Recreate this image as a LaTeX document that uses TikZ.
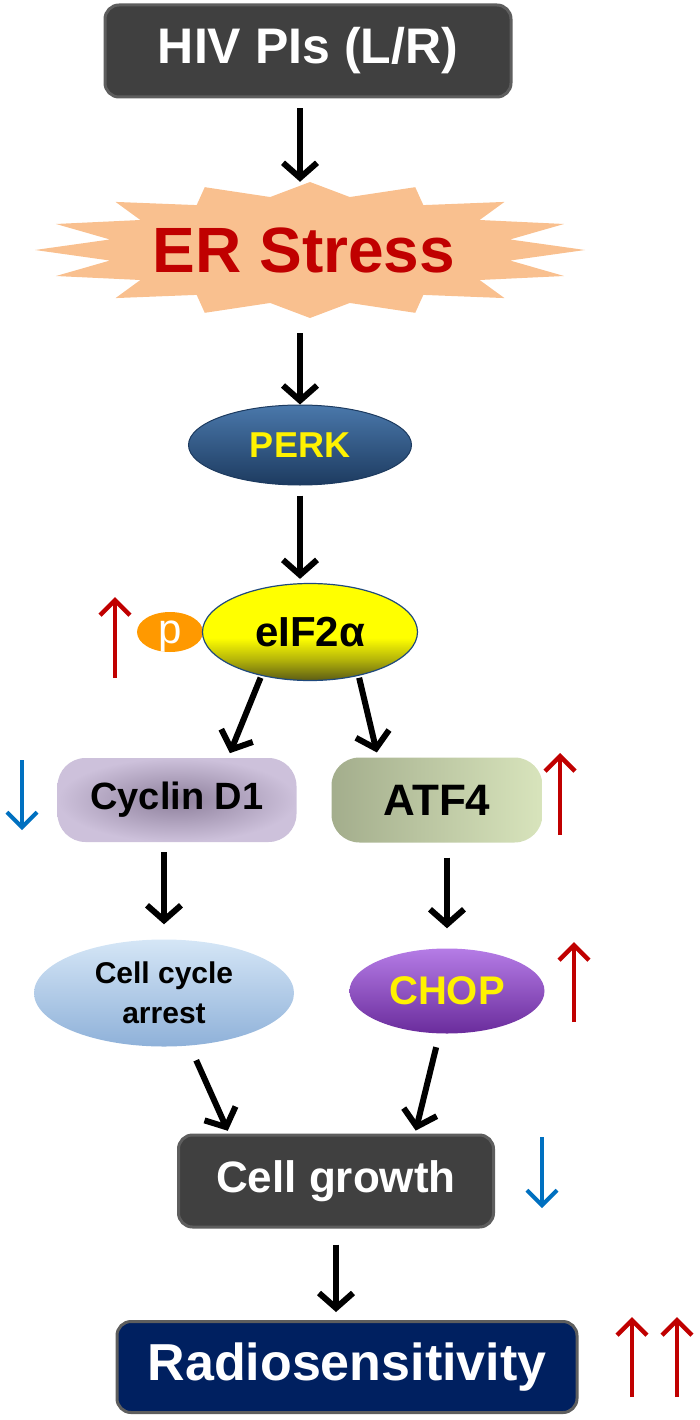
\documentclass[tikz,border=0pt]{standalone}
\usepackage{fontspec}
\setmainfont{Liberation Sans}
\usetikzlibrary{arrows.meta,calc,shapes.geometric}
\definecolor{BoxClr}{rgb}{0.25,0.25,0.25}
\definecolor{BorderClr}{rgb}{0.37,0.37,0.37}
\definecolor{StarClr}{rgb}{0.976,0.753,0.561}
\definecolor{StressClr}{rgb}{0.753,0,0}
\definecolor{UpClr}{rgb}{0.753,0,0}
\definecolor{DownClr}{rgb}{0,0.439,0.753}
\definecolor{RadioClr}{rgb}{0,0.125,0.376}
\definecolor{PerkTopClr}{rgb}{0.29,0.47,0.67}
\definecolor{PerkBotClr}{rgb}{0.114,0.231,0.376}
\definecolor{EifBotClr}{rgb}{0.36,0.36,0.08}
\definecolor{EifLineClr}{rgb}{0.122,0.286,0.49}
\definecolor{PhosClr}{rgb}{1,0.6,0}
\definecolor{CycInClr}{rgb}{0.557,0.502,0.612}
\definecolor{CycOutClr}{rgb}{0.804,0.757,0.859}
\definecolor{AtfLeftClr}{rgb}{0.64,0.68,0.55}
\definecolor{AtfRightClr}{rgb}{0.847,0.894,0.737}
\definecolor{ArrestTopClr}{rgb}{0.835,0.902,0.965}
\definecolor{ArrestBotClr}{rgb}{0.56,0.694,0.851}
\definecolor{ChopTopClr}{rgb}{0.71,0.486,0.902}
\definecolor{ChopBotClr}{rgb}{0.416,0.173,0.612}
\pgfdeclareverticalshading{eifshade}{100bp}{color(0bp)=(EifBotClr); color(25bp)=(EifBotClr); color(36bp)=(yellow!55!EifBotClr); color(47bp)=(yellow); color(100bp)=(yellow)}

\begin{document}
\begin{tikzpicture}[x=1pt,y=-1pt,
  flow/.style={line width=6pt,-{Straight Barb[length=15pt,width=34pt]},shorten <=10pt},
  upmark/.style={line width=4.5pt,UpClr,-{Straight Barb[length=15pt,width=30pt]}},
  downmark/.style={line width=4pt,DownClr,-{Straight Barb[length=15pt,width=30pt]}},
  darkbox/.style={rectangle,rounded corners=14pt,fill=BoxClr,draw=BorderClr,line width=3pt,text=white},
  blob/.style={ellipse,inner sep=0pt},
  pill/.style={rectangle,rounded corners=28pt,inner sep=0pt}]
\useasboundingbox (0,0) rectangle (700,1420);

\node[darkbox,minimum width=406,minimum height=92,font=\fontsize{50}{54}\selectfont\bfseries] (hiv) at (308,51) {HIV PIs (L/R)};

\fill[StarClr,shift={(310,250)}] plot[samples at={0,...,31},variable=\k]
  ({(mod(\k,2)==0 ? 275 : 204)*cos(\k*11.25)},{(mod(\k,2)==0 ? 68 : 54)*sin(\k*11.25)}) -- cycle;
\node[minimum width=550,minimum height=136,text=StressClr,font=\fontsize{64}{68}\selectfont\bfseries] (ers) at (304,250) {ER Stress};

\node[blob,minimum width=223,minimum height=80,top color=PerkTopClr,bottom color=PerkBotClr,draw=PerkBotClr,line width=1pt,text=yellow,font=\fontsize{36}{40}\selectfont\bfseries] (perk) at (300,445) {PERK};

\node[blob,minimum width=66,minimum height=40,fill=PhosClr,text=white,text height=22pt,text depth=0pt,font=\fontsize{42}{44}\selectfont] (phos) at (170,632) {p};
\node[blob,minimum width=215,minimum height=97,shading=eifshade,draw=EifLineClr,line width=1.2pt,font=\fontsize{42}{46}\selectfont\bfseries] (eif) at (310,632) {eIF2α};

\node[pill,minimum width=239,minimum height=84,shading=radial,inner color=CycInClr,outer color=CycOutClr,font=\fontsize{38}{42}\selectfont\bfseries] (cyc) at (177,800) {Cyclin D1};
\node[pill,minimum width=211,minimum height=85,left color=AtfLeftClr,right color=AtfRightClr,font=\fontsize{44}{48}\selectfont\bfseries] (atf) at (437,800) {ATF4};

\node[blob,minimum width=260,minimum height=107,top color=ArrestTopClr,bottom color=ArrestBotClr,align=center,font=\fontsize{30}{40}\selectfont\bfseries] (arrest) at (164,993) {Cell cycle\\arrest};
\node[blob,minimum width=195,minimum height=85,top color=ChopTopClr,bottom color=ChopBotClr,text=yellow,font=\fontsize{40}{44}\selectfont\bfseries] (chop) at (447,991) {CHOP};

\node[darkbox,minimum width=315,minimum height=92,font=\fontsize{44}{48}\selectfont\bfseries] (growth) at (336,1181) {Cell growth};
\node[darkbox,fill=RadioClr,minimum width=460,minimum height=91,font=\fontsize{52}{56}\selectfont\bfseries] (radio) at (347,1367) {Radiosensitivity};

\draw[flow] (hiv.south -| perk) -- (ers.north -| perk);
\draw[flow,shorten <=15pt] (ers.south -| perk) -- (perk.north);
\draw[flow,shorten >=4pt] (perk.south) -- (perk.south |- eif.north);
\draw[flow,shorten <=2pt,shorten >=5pt] (eif.-138) -- ([xshift=51pt]cyc.north);
\draw[flow,shorten <=2pt,shorten >=5pt] (eif.-42) -- ([xshift=-59pt]atf.north);
\draw[flow,shorten >=15pt] (arrest.north |- cyc.south) -- (arrest.north);
\draw[flow,shorten <=15pt,shorten >=20pt] (chop.north |- atf.south) -- (chop.north);
\draw[flow,shorten <=16pt,shorten >=3pt] (arrest.-64) -- ([xshift=-107pt]growth.north);
\draw[flow,shorten <=14pt,shorten >=3pt] (chop.-100) -- ([xshift=79pt]growth.north);
\draw[flow,shorten <=16pt,shorten >=8pt] (growth.south) -- (growth.south |- radio.north);

\draw[upmark] (115,678) -- (115,597);
\draw[downmark] (22,760) -- (22,830);
\draw[upmark] (560,835) -- (560,753);
\draw[upmark] (574,1022) -- (574,942);
\draw[downmark] (542,1137) -- (542,1208);
\foreach \x in {632,677}
  \draw[upmark] (\x,1397) -- (\x,1317);

\end{tikzpicture}
\end{document}
